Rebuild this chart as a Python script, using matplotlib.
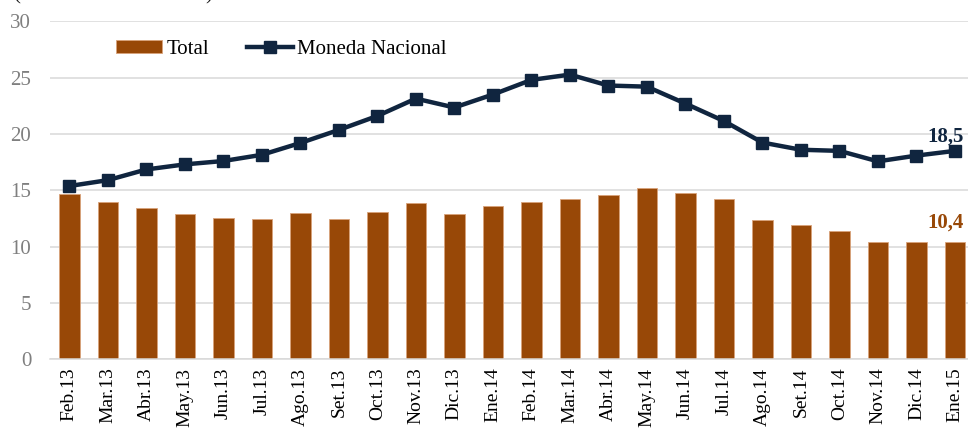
import matplotlib.pyplot as plt
import numpy as np

months = ["Feb.13", "Mar.13", "Abr.13", "May.13", "Jun.13", "Jul.13",
          "Ago.13", "Set.13", "Oct.13", "Nov.13", "Dic.13", "Ene.14",
          "Feb.14", "Mar.14", "Abr.14", "May.14", "Jun.14", "Jul.14",
          "Ago.14", "Set.14", "Oct.14", "Nov.14", "Dic.14", "Ene.15"]

total = [14.7, 13.96, 13.45, 12.9, 12.54, 12.45,
         12.98, 12.48, 13.05, 13.88, 12.86, 13.6,
         13.93, 14.22, 14.58, 15.2, 14.76, 14.2,
         12.35, 11.9, 11.37, 10.38, 10.4, 10.4]

moneda_nacional = [15.38, 15.9, 16.85, 17.3, 17.6, 18.15,
                   19.2, 20.36, 21.6, 23.14, 22.35, 23.5,
                   24.8, 25.27, 24.3, 24.2, 22.7, 21.15,
                   19.24, 18.6, 18.5, 17.57, 18.08, 18.5]

brown = "#984807"
navy = "#10253F"

plt.rcParams["font.family"] = ["Liberation Serif", "DejaVu Serif"]

fig = plt.figure(figsize=(9.68, 4.29), dpi=100)
ax = fig.add_axes([0.0517, 0.1625, 0.9483, 0.7878])

x = np.arange(len(months))

bars = ax.bar(x, total, width=0.53, color=brown, edgecolor="#d9a27a",
              linewidth=0.6, label="Total", zorder=2)
line, = ax.plot(x, moneda_nacional, color=navy, linewidth=3.2, marker="s",
                markersize=8, label="Moneda Nacional", zorder=3)

# last values
ax.text(x[-1] + 0.23, moneda_nacional[-1] + 0.8, "18,5", color=navy,
        fontsize=15, fontweight="bold", ha="right", va="baseline")
ax.text(x[-1] + 0.23, total[-1] + 1.25, "10,4", color=brown,
        fontsize=15, fontweight="bold", ha="right", va="baseline")

ax.set_ylim(0, 30)
ax.set_yticks(range(0, 31, 5))
ax.set_xlim(-0.5, 23.34)
ax.set_xticks(x)
ax.set_xticklabels(months, rotation=90, fontsize=14)
ax.tick_params(axis="y", labelsize=15, labelcolor="#7f7f7f", length=0, pad=13.5)
ax.tick_params(axis="x", length=0, pad=6)

ax.grid(axis="y", color="#d9d9d9", linewidth=1.1, zorder=0)
ax.set_axisbelow(True)
for s in ["top", "right", "left"]:
    ax.spines[s].set_visible(False)
ax.spines["bottom"].set_color("#d9d9d9")
ax.spines["bottom"].set_linewidth(1.1)

ax.legend(handles=[bars, line], loc="center left",
          bbox_to_anchor=(0.063, 0.917), ncol=2,
          frameon=False, fontsize=15, handlelength=2.2, handleheight=0.6,
          handletextpad=0.2, columnspacing=1.85, borderaxespad=0)

# cropped heading at the very top
fig.text(0.014, 1.001, "(Variación % 12 meses)", fontsize=15,
         va="baseline", color="#1a1a1a")

fig.savefig("out.png", dpi=100)
